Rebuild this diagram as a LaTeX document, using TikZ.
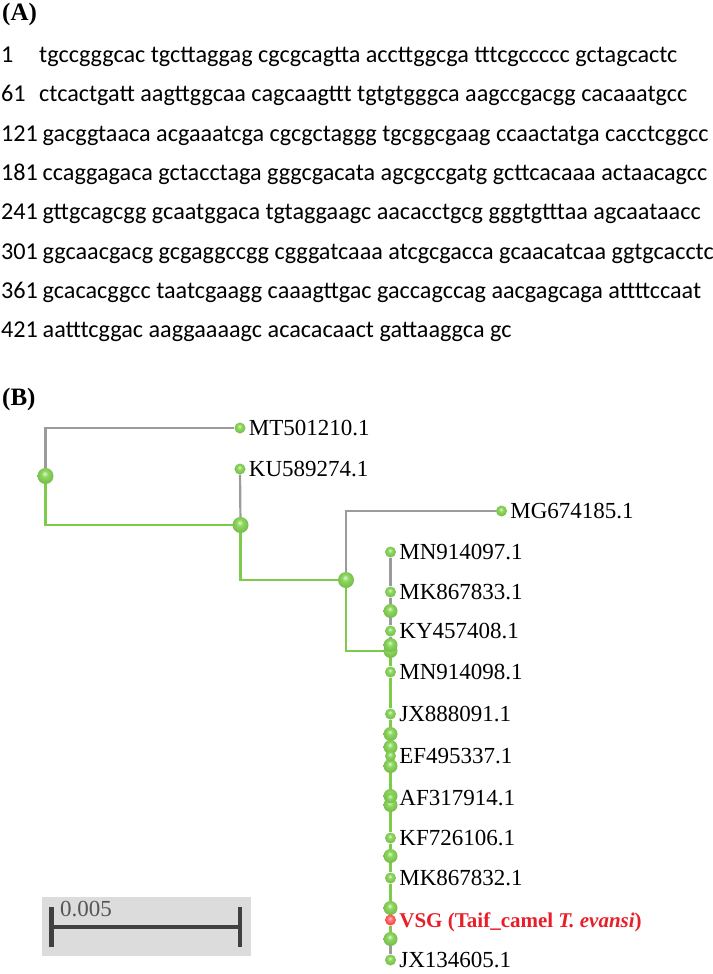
\documentclass[tikz,border=0pt]{standalone}
\usepackage{fontspec}
\setmainfont{Liberation Serif}
\newfontfamily\seqfont{Carlito}
\usepackage{tikz}
\usetikzlibrary{positioning, backgrounds}
\definecolor{treegreen}{RGB}{124,203,74}
\definecolor{ballgreen}{RGB}{139,216,91}
\definecolor{treegray}{RGB}{155,155,155}
\definecolor{vsgred}{RGB}{232,30,40}
\definecolor{barbg}{RGB}{220,220,220}
\definecolor{barfg}{RGB}{64,64,64}
\definecolor{bartext}{RGB}{85,85,85}
\pgfdeclareradialshading{greenball}{\pgfpoint{-3bp}{8bp}}{color(0bp)=(ballgreen!25!white); color(10bp)=(ballgreen); color(25bp)=(ballgreen!88!black); color(50bp)=(ballgreen!88!black)}
\pgfdeclareradialshading{redball}{\pgfpoint{-3bp}{8bp}}{color(0bp)=(red!20!white); color(10bp)=(red!55!white); color(25bp)=(red!75!white); color(50bp)=(red!75!white)}
\newcommand{\seqRows}{1/tgccgggcac tgcttaggag cgcgcagtta accttggcga tttcgccccc gctagcactc,
  61/ctcactgatt aagttggcaa cagcaagttt tgtgtgggca aagccgacgg cacaaatgcc,
  121/gacggtaaca acgaaatcga cgcgctaggg tgcggcgaag ccaactatga cacctcggcc,
  181/ccaggagaca gctacctaga gggcgacata agcgccgatg gcttcacaaa actaacagcc,
  241/gttgcagcgg gcaatggaca tgtaggaagc aacacctgcg gggtgtttaa agcaataacc,
  301/ggcaacgacg gcgaggccgg cgggatcaaa atcgcgacca gcaacatcaa ggtgcacctc,
  361/gcacacggcc taatcgaagg caaagttgac gaccagccag aacgagcaga attttccaat,
  421/aatttcggac aaggaaaagc acacacaact gattaaggca gc}

\begin{document}
\begin{tikzpicture}[x=1pt, y=-1pt,
  panel/.style={font=\fontsize{25}{28}\selectfont\bfseries, inner sep=0pt, anchor=west},
  seqtext/.style={font=\seqfont\fontsize{24.2}{28}\selectfont, inner sep=0pt, anchor=base west},
  leaf/.style={circle, minimum size=11pt, inner sep=0pt, shading=greenball},
  knot/.style={circle, minimum size=14pt, inner sep=0pt, shading=greenball},
  bigknot/.style={circle, minimum size=16pt, inner sep=0pt, shading=greenball},
  tag/.style={font=\fontsize{23}{26}\selectfont, inner sep=0pt, text depth=0pt},
  gline/.style={draw=treegreen, line width=2.4pt},
  hline/.style={draw=treegray, line width=2.2pt},
  sbar/.style={draw=barfg, line width=4.5pt}]
  \useasboundingbox (0,0) rectangle (712,974);
  % (A) sequence
  \node[panel] (panelA) at (2,14) {(A)};
  \foreach \num/\row [count=\k from 0] in \seqRows {
    \node[seqtext] (num\k) at (1,{62.5+39.3*\k}) {\num};
    \node[seqtext] (row\k) at ({ifthenelse(\k<2,39,42.5)},{62.5+39.3*\k}) {\row};
  }
  % (B) tree
  \node[panel] (panelB) at (2,399) {(B)};
  \node[bigknot] (root) at (45.5,476) {};
  \node[bigknot] (n1) at (240.5,525) {};
  \node[bigknot] (n2) at (346,580) {};
  \node[knot] (n3) at (390.5,651) {};
  \foreach \nm/\yy in {b1/611, b2/645, b3/734, b4/747, b5/766, b6/796, b7/805, b8/856, b9/908, b10/939}
    \node[knot] (\nm) at (390.5,\yy) {};
  \foreach \nm/\xx/\yy/\txt in {mt/240/428/MT501210.1, ku/240/469/KU589274.1, mg/501.5/511/MG674185.1,
      mn97/390.5/552/MN914097.1, mk33/390.5/592/MK867833.1, ky/390.5/631/KY457408.1,
      mn98/390.5/672/MN914098.1, jx91/390.5/714/JX888091.1, ef/390.5/756/EF495337.1,
      af/390.5/798/AF317914.1, kf/390.5/838/KF726106.1, mk32/390.5/878/MK867832.1,
      jx05/390.5/960/JX134605.1} {
    \node[leaf] (\nm) at (\xx,\yy) {};
    \node[tag, right=3pt of \nm] (\nm-tag) {\txt};
  }
  \node[leaf, shading=redball] (vsg) at (390.5,920) {};
  \node[tag, right=3pt of vsg, text=vsgred, font=\fontsize{21}{24}\selectfont\bfseries] (vsg-tag) {VSG (Taif\_camel \textit{T. evansi})};
  \begin{scope}[on background layer]
    \draw[hline] (root) |- (mt);
    \draw[gline] (root) |- (n1);
    \draw[hline] (n1) -- (ku);
    \draw[gline] (n1) |- (n2);
    \draw[hline] (n2) |- (mg);
    \draw[gline] (n2) |- (n3);
    \draw[hline] (mn97) -- (mk33) -- (b1) -- (ky) -- (b2);
    \draw[gline] (b2) -- (n3) -- (mn98) -- (jx91) -- (b3) -- (b4) -- (ef) -- (b5) -- (b6) -- (af) -- (b7)
      -- (kf) -- (b8) -- (mk32) -- (b9) -- (vsg) -- (b10);
    \draw[hline] (b10) -- (jx05);
  \end{scope}
  % scale bar
  \fill[barbg] (41.7,897) rectangle (250.7,956);
  \coordinate (sbL) at (51.7,927);
  \coordinate (sbR) at (240,927);
  \draw[sbar] (sbL) -- (sbR);
  \draw[sbar] ([yshift=-20pt]sbL) -- ([yshift=20pt]sbL);
  \draw[sbar] ([yshift=-20pt]sbR) -- ([yshift=20pt]sbR);
  \node[tag, text=bartext, anchor=west] (sbtext) at (60,909) {0.005};
\end{tikzpicture}
\end{document}
